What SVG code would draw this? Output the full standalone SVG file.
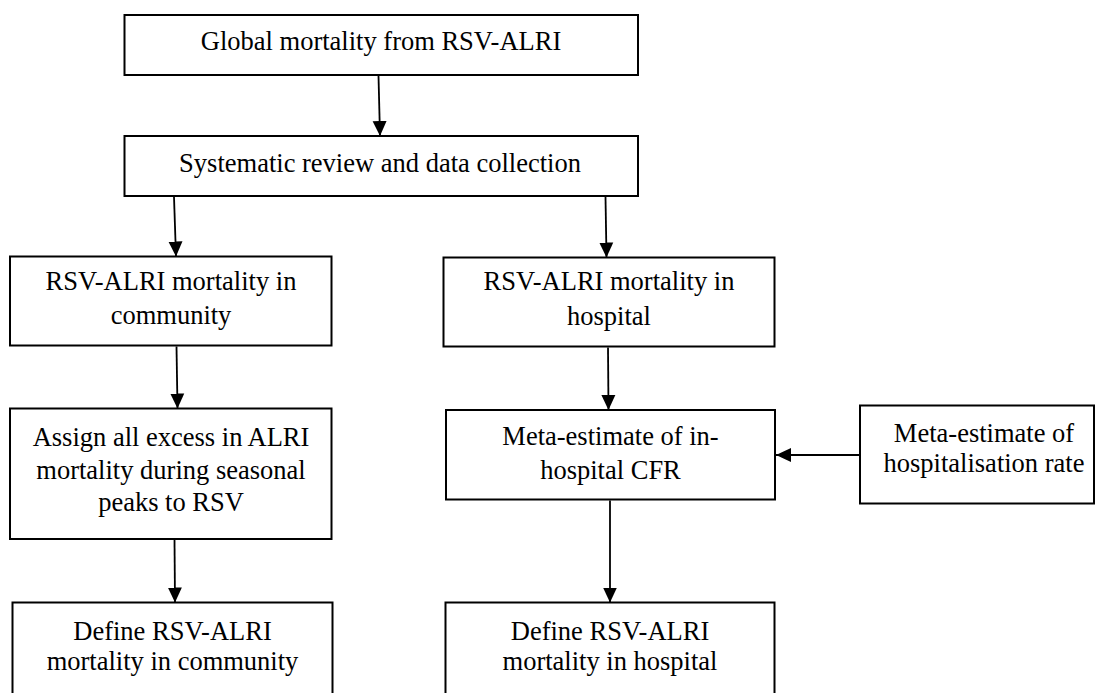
<svg xmlns="http://www.w3.org/2000/svg" width="1096" height="693" viewBox="0 0 1096 693">
<style>
.box{fill:#fff;stroke:#000;stroke-width:2}
.t{font-family:"Liberation Serif","Times New Roman",serif;font-size:26.5px;fill:#000;text-anchor:middle}
.c{stroke:#000;stroke-width:1.8;fill:none;marker-end:url(#ah)}
</style>
<defs>
<marker id="ah" markerUnits="userSpaceOnUse" markerWidth="16" markerHeight="16" viewBox="0 0 16 16" refX="15" refY="8" orient="auto">
<path d="M0,1 L15,8 L0,15 Z" fill="#000"/>
</marker>
</defs>
<rect width="1096" height="693" fill="#fff"/>
<g id="n1"><rect class="box" x="124.5" y="15" width="513.5" height="60"/><text class="t" x="381" y="50">Global mortality from RSV-ALRI</text></g>
<g id="n2"><rect class="box" x="124.5" y="136" width="513.5" height="60"/><text class="t" x="380" y="171.5">Systematic review and data collection</text></g>
<g id="n3"><rect class="box" x="10" y="256.5" width="321.5" height="89"/><text class="t" x="171" y="289.5">RSV-ALRI mortality in</text><text class="t" x="171" y="324">community</text></g>
<g id="n4"><rect class="box" x="10" y="408.5" width="321.5" height="130.5"/><text class="t" x="171" y="446">Assign all excess in ALRI</text><text class="t" x="171" y="478.5">mortality during seasonal</text><text class="t" x="171" y="511">peaks to RSV</text></g>
<g id="n5"><rect class="box" x="443.5" y="257.5" width="331" height="89"/><text class="t" x="609" y="289.5">RSV-ALRI mortality in</text><text class="t" x="609" y="325">hospital</text></g>
<g id="n6"><rect class="box" x="446" y="410" width="329" height="89.5"/><text class="t" x="610.5" y="445">Meta-estimate of in-</text><text class="t" x="610.5" y="478.5">hospital CFR</text></g>
<g id="n8"><rect class="box" x="860" y="405.5" width="234" height="98"/><text class="t" x="984" y="441.5">Meta-estimate of</text><text class="t" x="984" y="471.5">hospitalisation rate</text></g>
<g id="n7"><rect class="box" x="12.5" y="602.5" width="320" height="100"/><text class="t" x="172.5" y="640">Define RSV-ALRI</text><text class="t" x="172.5" y="670">mortality in community</text></g>
<g id="n9"><rect class="box" x="445.5" y="602.5" width="329" height="100"/><text class="t" x="610" y="640">Define RSV-ALRI</text><text class="t" x="610" y="670">mortality in hospital</text></g>
<g id="connectors">
<line class="c" x1="378.5" y1="76" x2="380" y2="136"/>
<line class="c" x1="174" y1="197" x2="176" y2="256.5"/>
<line class="c" x1="176.5" y1="346.5" x2="177.5" y2="408.5"/>
<line class="c" x1="174.5" y1="540" x2="175" y2="602.5"/>
<line class="c" x1="605.5" y1="197" x2="606.5" y2="257.5"/>
<line class="c" x1="608" y1="347.5" x2="608.5" y2="410"/>
<line class="c" x1="610" y1="500.5" x2="610" y2="602.5"/>
<line class="c" x1="860" y1="455" x2="776" y2="455"/>
</g>
</svg>
